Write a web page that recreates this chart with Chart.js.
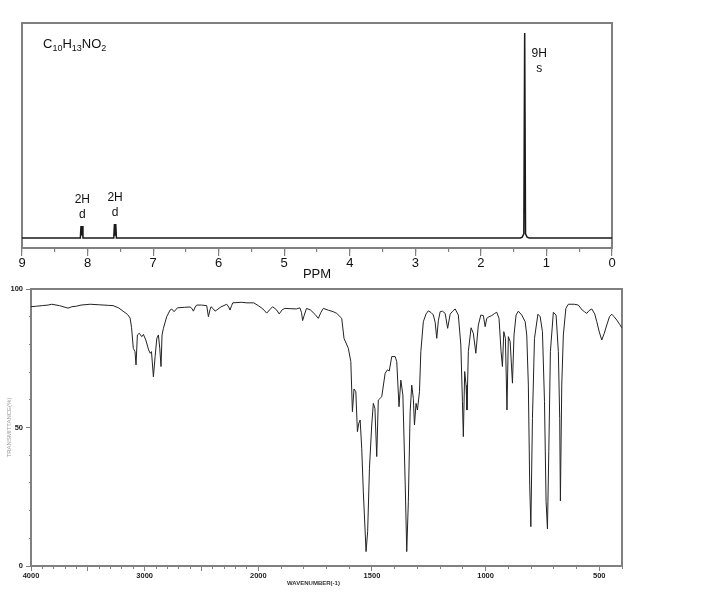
<!DOCTYPE html>
<html>
<head>
<meta charset="utf-8">
<script src="https://cdn.jsdelivr.net/npm/chart.js@4.4.1/dist/chart.umd.min.js"></script>
<style>
    html, body { margin: 0; padding: 0; background: #fff; }
    #wrap { position: relative; width: 706px; height: 598px; overflow: hidden; }
    canvas { position: absolute; left: 0; }
    #nmr { top: 0; }
    #ir { top: 280px; }
    .txt { position: absolute; font-family: 'Liberation Sans', Arial, sans-serif; color: #111; white-space: nowrap; }
    .sb { font-size: 9px; position: relative; top: 3px; }
</style>
</head>
<body>
<div id="wrap">
    <canvas id="nmr" width="706" height="290"></canvas>
    <canvas id="ir" width="706" height="318"></canvas>
    <div class="txt" style="left:43px; top:37px; font-size:13px; line-height:13px;">C<span class="sb">10</span>H<span class="sb">13</span>NO<span class="sb">2</span></div>
    <div class="txt" style="left:287px; top:580px; font-size:6px; font-weight:bold; color:#333;">WAVENUMBER(-1)</div>
</div>
<script>
// 1H NMR trace (ppm, relative intensity)
const nmrPpm = [9.0, 8.110, 8.100, 8.090, 8.080, 8.070, 7.600, 7.590, 7.580, 7.570, 7.560, 1.40, 1.37, 1.345, 1.332, 1.319, 1.295, 1.26, 0.0];
const nmrIntensity = [0, 0, 0.058, 0.012, 0.058, 0, 0, 0.068, 0.015, 0.068, 0, 0, 0.004, 0.02, 1.0, 0.02, 0.004, 0, 0];

// peak annotations
const nmrLabelText = ['2H', 'd', '2H', 'd', '9H', 's'];
const nmrLabelPpm = [8.08, 8.08, 7.58, 7.58, 1.11, 1.11];
const nmrLabelLevel = [0.188, 0.115, 0.198, 0.122, 0.90, 0.827];

// IR spectrum (wavenumber cm-1, %T)
const irWavenumber = [4000, 3950, 3900, 3850, 3818, 3750, 3700, 3674, 3640, 3600, 3560, 3480, 3400, 3320, 3278, 3230, 3190, 3150, 3128, 3115,
    3100, 3085, 3076, 3064, 3047, 3025, 3011, 2990, 2965, 2951, 2940, 2923, 2908, 2893, 2879, 2867, 2856, 2847, 2835, 2806,
    2776, 2762, 2741, 2712, 2650, 2600, 2585, 2571, 2555, 2542, 2500, 2454, 2439, 2425, 2416, 2395, 2380, 2330, 2278, 2260,
    2249, 2235, 2225, 2150, 2100, 2040, 2000, 1980, 1963, 1950, 1937, 1920, 1908, 1895, 1883, 1860, 1832, 1817, 1810, 1805,
    1798, 1788, 1770, 1750, 1736, 1725, 1714, 1690, 1670, 1655, 1633, 1623, 1604, 1593, 1586, 1579, 1571, 1564, 1558, 1552,
    1545, 1538, 1526, 1519, 1511, 1501, 1494, 1487, 1479, 1472, 1457, 1442, 1432, 1424, 1413, 1398, 1391, 1381, 1373, 1364,
    1354, 1347, 1340, 1332, 1325, 1318, 1313, 1306, 1300, 1291, 1285, 1274, 1262, 1252, 1240, 1230, 1222, 1215, 1208, 1200,
    1190, 1178, 1167, 1156, 1145, 1134, 1120, 1109, 1102, 1098, 1092, 1086, 1082, 1076, 1064, 1054, 1043, 1032, 1021, 1010,
    1002, 995, 985, 973, 960, 951, 941, 932, 926, 920, 913, 906, 900, 892, 882, 875, 866, 856, 841, 826,
    819, 812, 806, 801, 794, 785, 770, 760, 750, 741, 734, 728, 722, 715, 702, 690, 680, 674, 671, 665,
    658, 647, 636, 610, 592, 575, 565, 555, 545, 533, 520, 511, 500, 489, 478, 467, 455, 445, 435, 423,
    410, 401];
const irTransmittance = [93.6, 93.8, 94.0, 94.2, 94.5, 94.0, 93.4, 93.1, 93.6, 93.8, 94.2, 94.5, 94.3, 94.1, 94.0, 93.2, 92.0, 90.8, 89.5, 86.0,
    78.6, 77.4, 72.6, 83.4, 84.0, 82.8, 83.6, 81.6, 78.0, 76.8, 77.4, 68.3, 75.6, 82.2, 83.4, 78.6, 72.0, 83.4, 85.8, 90.0,
    92.4, 92.8, 91.8, 93.2, 93.4, 93.5, 93.0, 92.0, 93.5, 94.2, 94.2, 94.0, 90.0, 92.5, 93.6, 92.8, 92.0, 93.5, 94.5, 93.5,
    92.4, 94.0, 95.0, 95.2, 95.0, 95.0, 94.0, 92.8, 91.3, 92.5, 93.6, 92.5, 91.0, 92.5, 93.0, 92.9, 92.8, 93.2, 91.5, 88.6,
    90.5, 93.0, 92.4, 90.8, 89.4, 91.5, 93.0, 92.3, 91.8, 91.2, 89.4, 82.2, 78.6, 73.8, 55.7, 63.9, 62.9, 48.5, 51.5, 52.7,
    42.5, 26.8, 5.2, 12.4, 35.3, 50.9, 58.7, 56.9, 39.5, 59.9, 61.1, 69.6, 70.8, 70.4, 75.6, 75.6, 73.8, 57.5, 67.1, 61.7,
    30.4, 5.2, 23.2, 55.7, 65.3, 60.5, 50.9, 58.7, 56.3, 62.9, 77.4, 88.2, 91.0, 92.1, 91.5, 90.6, 88.0, 82.2, 88.5, 91.8,
    92.0, 91.2, 85.8, 90.9, 92.0, 92.8, 90.6, 79.8, 59.3, 46.7, 70.2, 65.3, 56.3, 77.4, 86.0, 84.0, 76.8, 87.0, 90.6, 90.4,
    86.4, 89.4, 90.0, 90.4, 91.2, 91.6, 89.4, 77.4, 72.0, 84.6, 82.2, 56.3, 82.8, 81.0, 66.0, 83.4, 90.6, 92.0, 90.6, 88.2,
    83.4, 65.3, 29.2, 14.2, 53.3, 82.2, 90.9, 90.0, 84.6, 59.3, 23.2, 13.4, 41.3, 77.4, 91.6, 90.6, 77.4, 53.3, 23.5, 65.3,
    83.4, 93.0, 94.5, 94.5, 94.2, 92.4, 91.8, 91.2, 92.2, 92.8, 91.0, 88.2, 84.5, 81.6, 84.0, 87.0, 90.0, 90.9, 90.0, 88.8,
    87.2, 86.0];

// axis tick values
const irMajorTicks = [500, 1000, 1500, 2000, 2500, 3000, 3500, 4000];
const irLabelledTicks = [500, 1000, 1500, 2000, 3000, 4000];

const grey = '#808080';
const sans = "'Liberation Sans', Arial, sans-serif";

// IR axis: 2000-4000 drawn at half the scale of 400-2000
const warp = v => v > 2000 ? 2000 + (v - 2000) / 2 : v;
const unwarp = w => w > 2000 ? 2000 + (w - 2000) * 2 : w;

class IrScale extends Chart.LinearScale {
    static id = 'irWavenumber';
    getPixelForValue(value) {
        if (value === null || isNaN(value)) return NaN;
        const lo = warp(this.min), hi = warp(this.max);
        return this.getPixelForDecimal((warp(value) - lo) / (hi - lo));
    }
    getValueForPixel(pixel) {
        const lo = warp(this.min), hi = warp(this.max);
        return unwarp(lo + this.getDecimalForPixel(pixel) * (hi - lo));
    }
}
Chart.register(IrScale);

const fixH = h => s => { s.height = h; };
const fixW = w => s => { s.width = w; };

const peakLabels = {
    id: 'peakLabels',
    afterDatasetsDraw(chart) {
        const { ctx, scales: { x, y } } = chart;
        ctx.save();
        ctx.font = '12px ' + sans;
        ctx.fillStyle = '#111';
        ctx.textAlign = 'center';
        ctx.textBaseline = 'middle';
        nmrLabelText.forEach((t, i) => {
            ctx.fillText(t, x.getPixelForValue(nmrLabelPpm[i]), y.getPixelForValue(nmrLabelLevel[i]));
        });
        ctx.restore();
    }
};

const common = {
    responsive: false,
    animation: false,
    events: [],
    layout: { padding: 0 },
    plugins: { legend: { display: false }, tooltip: { enabled: false } }
};

// NMR chart
new Chart(document.getElementById('nmr'), {
    type: 'line',
    data: {
        datasets: [{
            data: nmrPpm.map((p, i) => ({ x: p, y: nmrIntensity[i] })),
            borderColor: '#1a1a1a',
            borderWidth: 1.5,
            pointRadius: 0,
            tension: 0,
            xAxisID: 'x',
            yAxisID: 'y'
        }]
    },
    options: {
        ...common,
        scales: {
            xMinor: {
                type: 'linear', axis: 'x', position: 'bottom', weight: 0,
                min: 0, max: 9, reverse: true,
                ticks: { stepSize: 0.5, display: false, autoSkip: false },
                grid: { drawOnChartArea: false, tickLength: 4, color: grey, lineWidth: 1.2 },
                border: { display: false },
                afterFit: fixH(0)
            },
            x: {
                type: 'linear', position: 'bottom', weight: 1,
                min: 0, max: 9, reverse: true,
                ticks: { stepSize: 1, autoSkip: false, maxRotation: 0, padding: 0, color: '#111', font: { family: sans, size: 13 } },
                grid: { drawOnChartArea: false, tickLength: 8, color: grey, lineWidth: 1.2 },
                border: { color: grey, width: 2 },
                title: { display: true, text: 'PPM', color: '#111', font: { family: sans, size: 13 }, padding: { top: 0, bottom: 8 } },
                afterFit: fixH(42)
            },
            xTop: {
                type: 'linear', axis: 'x', position: 'top',
                min: 0, max: 9,
                ticks: { display: false },
                grid: { display: false },
                border: { color: grey, width: 2 },
                afterFit: fixH(23)
            },
            y: {
                type: 'linear', position: 'left',
                min: -0.049, max: 1.049,
                ticks: { display: false },
                grid: { display: false },
                border: { color: grey, width: 2 },
                afterFit: fixW(22)
            },
            yRight: {
                type: 'linear', axis: 'y', position: 'right',
                min: -0.049, max: 1.049,
                ticks: { display: false },
                grid: { display: false },
                border: { color: grey, width: 2 },
                afterFit: fixW(94)
            }
        }
    },
    plugins: [peakLabels]
});

// IR chart
const irTickFont = { family: sans, size: 7.5, weight: 'bold' };

new Chart(document.getElementById('ir'), {
    type: 'line',
    data: {
        datasets: [{
            data: irWavenumber.map((w, i) => ({ x: w, y: irTransmittance[i] })),
            borderColor: '#222',
            borderWidth: 1,
            pointRadius: 0,
            tension: 0,
            xAxisID: 'x',
            yAxisID: 'y'
        }]
    },
    options: {
        ...common,
        scales: {
            xMinor: {
                type: 'irWavenumber', axis: 'x', position: 'bottom', weight: 0,
                min: 400, max: 4000, reverse: true,
                ticks: { stepSize: 100, display: false, autoSkip: false },
                grid: { drawOnChartArea: false, tickLength: 3, color: grey },
                border: { display: false },
                afterFit: fixH(0)
            },
            x: {
                type: 'irWavenumber', position: 'bottom', weight: 1,
                min: 400, max: 4000, reverse: true,
                afterBuildTicks: s => { s.ticks = irMajorTicks.map(v => ({ value: v })); },
                ticks: {
                    autoSkip: false, maxRotation: 0, padding: 0,
                    color: '#222', font: irTickFont,
                    callback: v => irLabelledTicks.includes(v) ? String(v) : ''
                },
                grid: { drawOnChartArea: false, tickLength: 5, color: grey },
                border: { color: grey, width: 2 },
                afterFit: fixH(32)
            },
            xTop: {
                type: 'linear', axis: 'x', position: 'top',
                min: 400, max: 4000,
                ticks: { display: false },
                grid: { display: false },
                border: { color: grey, width: 2 },
                afterFit: fixH(9)
            },
            yMinor: {
                type: 'linear', axis: 'y', position: 'left', weight: 0,
                min: 0, max: 100,
                ticks: { stepSize: 10, display: false, autoSkip: false },
                grid: { drawOnChartArea: false, tickLength: 2, color: grey },
                border: { display: false },
                afterFit: fixW(0)
            },
            y: {
                type: 'linear', position: 'left', weight: 1,
                min: 0, max: 100,
                ticks: { stepSize: 50, autoSkip: false, padding: 3, color: '#222', font: irTickFont },
                grid: { drawOnChartArea: false, tickLength: 5, color: grey },
                border: { color: grey, width: 2 },
                title: { display: true, text: 'TRANSMITTANCE(%)', color: '#999', font: { family: sans, size: 6 }, padding: { top: 6, bottom: 0 } },
                afterFit: fixW(31)
            },
            yRight: {
                type: 'linear', axis: 'y', position: 'right',
                min: 0, max: 100,
                ticks: { display: false },
                grid: { display: false },
                border: { color: grey, width: 2 },
                afterFit: fixW(84)
            }
        }
    }
});
</script>
</body>
</html>
